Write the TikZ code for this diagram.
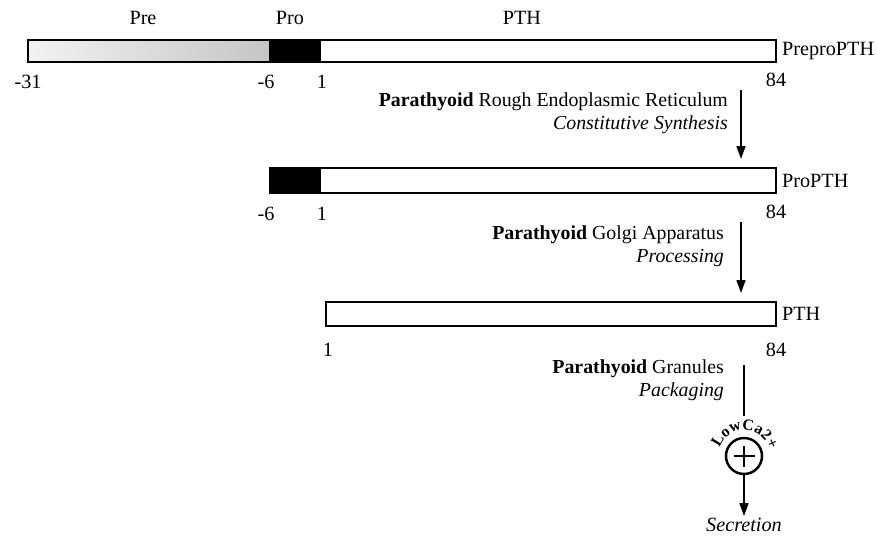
\documentclass[tikz,border=0pt]{standalone}
\usepackage{fontspec}
\setmainfont{Liberation Serif}
\usetikzlibrary{arrows.meta,positioning,decorations.text}

\begin{document}
\begin{tikzpicture}[x=0.02cm, y=-0.02cm,
  seg/.style={rectangle, draw, line width=1.1pt, inner sep=0pt, outer sep=0pt},
  num/.style={font=\fontsize{11.5}{13}\selectfont, inner sep=1pt},
  lbl/.style={font=\fontsize{11.5}{13}\selectfont, anchor=west, inner sep=1pt},
  stepnote/.style={font=\fontsize{11.3}{13}\selectfont, align=right, anchor=east, inner sep=1pt},
  arr/.style={-{Triangle[length=2.6mm, width=1.8mm]}, line width=0.9pt}
]
  \useasboundingbox (0,0) rectangle (877,542);

  % PreproPTH
  \node[seg, left color=gray!10, right color=gray!45, minimum width=4.84cm, minimum height=0.44cm] (pre1) at (149,51) {};
  \node[seg, fill=black, minimum width=1.0cm, minimum height=0.44cm] (pro1) at (295,51) {};
  \node[seg, fill=white, minimum width=9.12cm, minimum height=0.44cm] (pth1) at (548,51) {};
  \node[num] (tpre) at (143,18) {Pre};
  \node[num] (tpro) at (290,18) {Pro};
  \node[num] (tpth) at (522,18) {PTH};
  \node[lbl] (n1) at (780,51) {PreproPTH};
  \node[num] at (28,82) {-31};
  \node[num] at (266,82) {-6};
  \node[num] at (322,82) {1};
  \node[num] at (776,80) {84};

  \coordinate (a1s) at (741,90);
  \coordinate (a1e) at (741,159);
  \draw[arr] (a1s) -- (a1e);
  \node[stepnote] (s1) at (730,113) {\textbf{Parathyoid} Rough Endoplasmic Reticulum\\ \textit{Constitutive Synthesis}};

  % ProPTH
  \node[seg, fill=black, minimum width=1.0cm, minimum height=0.5cm] (pro2) at (295,180.5) {};
  \node[seg, fill=white, minimum width=9.12cm, minimum height=0.5cm] (pth2) at (548,180.5) {};
  \node[lbl] (n2) at (780,181) {ProPTH};
  \node[num] at (266,214) {-6};
  \node[num] at (322,214) {1};
  \node[num] at (776,212) {84};

  \coordinate (a2s) at (741,222);
  \coordinate (a2e) at (741,293);
  \draw[arr] (a2s) -- (a2e);
  \node[stepnote] (s2) at (726,246) {\textbf{Parathyoid} Golgi Apparatus\\ \textit{Processing}};

  % PTH
  \node[seg, fill=white, minimum width=9.0cm, minimum height=0.48cm] (pth3) at (551,314) {};
  \node[lbl] (n3) at (780,314) {PTH};
  \node[num] at (328,350) {1};
  \node[num] at (776,350) {84};

  \node[stepnote] (s3) at (726,380) {\textbf{Parathyoid} Granules\\ \textit{Packaging}};

  % secretion
  \coordinate (a3s) at (744,365);
  \coordinate (a3e) at (744,416);
  \draw[line width=0.9pt] (a3s) -- (a3e);
  \node[circle, draw, line width=1.4pt, minimum size=0.72cm, inner sep=0pt] (plus) at (744,456) {};
  \draw[line width=1.5pt] ([xshift=-0.21cm]plus.center) -- ([xshift=0.21cm]plus.center)
    ([yshift=-0.21cm]plus.center) -- ([yshift=0.21cm]plus.center);
  \node[font=\fontsize{11.5}{13}\selectfont\itshape, inner sep=1pt] (sec) at (744,525) {Secretion};
  \draw[arr] (plus.south) -- (plus.south |- sec.north);
  \path[decorate, decoration={text along path, text align=center,
    text={|\fontsize{9}{11}\selectfont\bfseries|LowCa2{+}}}]
    (plus.center) ++(175:0.52cm) arc[start angle=175, end angle=0, radius=0.52cm];
\end{tikzpicture}
\end{document}
